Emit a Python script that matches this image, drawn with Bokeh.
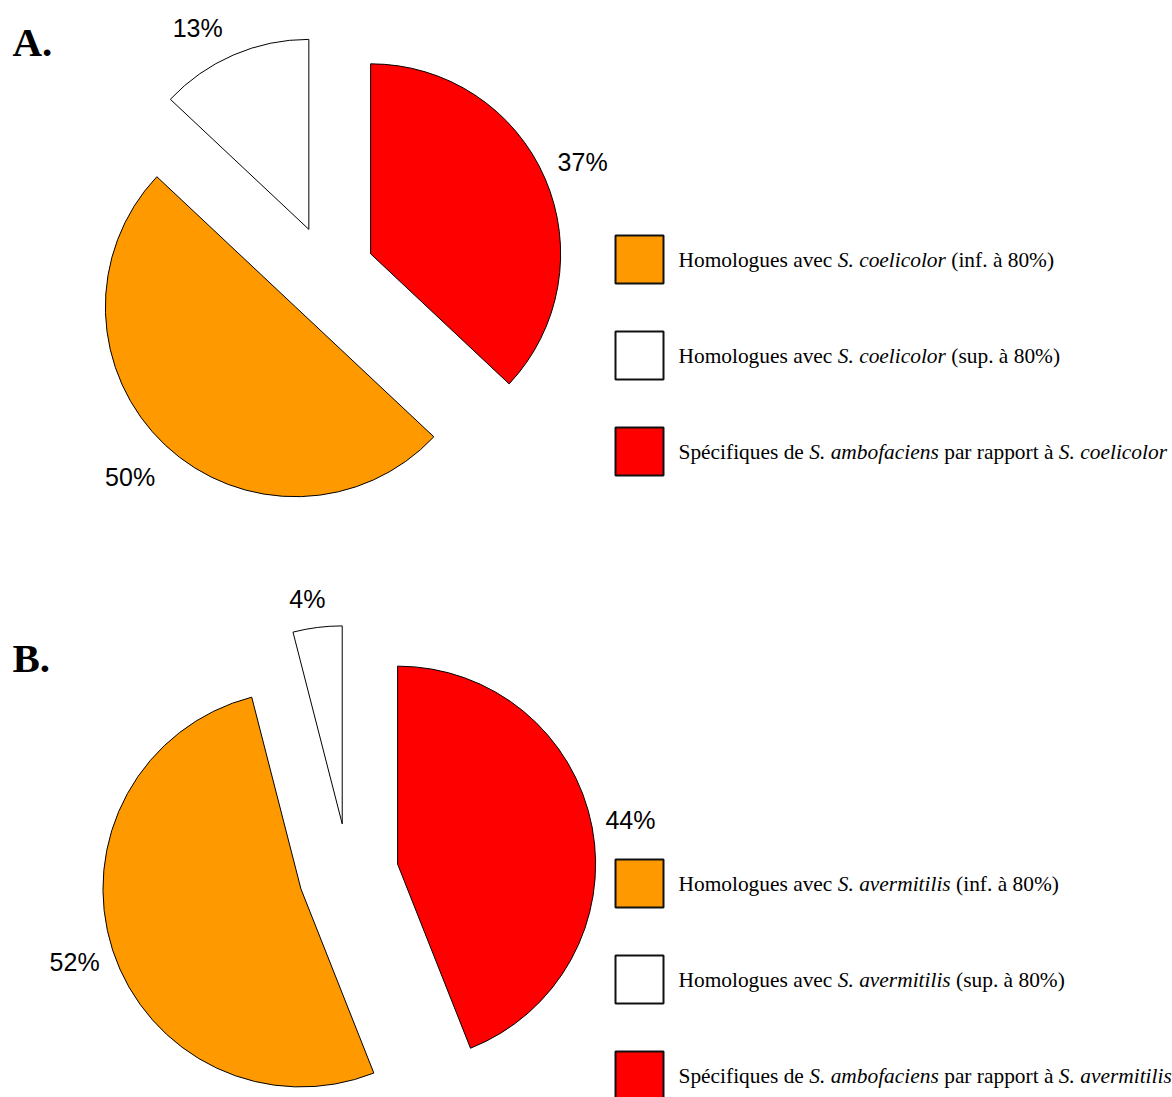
import math
from bokeh.plotting import figure
from bokeh.models import Range1d
from bokeh.core.properties import value
from bokeh.embed import file_html
from bokeh.resources import INLINE

# ---------------- data ----------------
categories = ["inf", "sup", "spec"]               # legend order
colors = ["#FF9900", "#FFFFFF", "#FF0000"]
values_A = [50, 13, 37]
values_B = [52, 4, 44]
pie_order = [2, 0, 1]                              # clockwise from 12 o'clock
reference_A = "S. coelicolor"
reference_B = "S. avermitilis"
query_species = "S. ambofaciens"
panel_labels = ["A.", "B."]

def legend_segments(ref):
    return [
        [("Homologues avec ", False), (ref, True), (" (inf. à 80%)", False)],
        [("Homologues avec ", False), (ref, True), (" (sup. à 80%)", False)],
        [("Spécifiques de ", False), (query_species, True), (" par rapport à ", False), (ref, True)],
    ]

# ---------------- layout (screen pixels) ----------------
H = 1097
W_PX, H_PX = 1172, 1097
panels = [
    dict(vals=values_A, ref=reference_A, label=panel_labels[0], cx=327, cy=272, r=190, ex=47,
         label_pos={0: (1, 237), 1: (-5.5, 230), 2: (0, 231)}, legend_y=[259, 355, 451], title_mid=41),
    dict(vals=values_B, ref=reference_B, label=panel_labels[1], cx=348, cy=873, r=198, ex=50,
         label_pos={0: (0, 238), 1: (-1.6, 228), 2: (0, 237)}, legend_y=[883, 979, 1075], title_mid=657),
]

# Times metrics (per 1000 em)
REG = {' ': 250, '(': 333, ')': 333, '%': 833, '.': 250, 'A': 722, 'H': 722, 'S': 556,
       'a': 444, 'b': 500, 'c': 444, 'd': 500, 'e': 444, 'f': 333, 'g': 500, 'h': 500, 'i': 278,
       'l': 278, 'm': 778, 'n': 500, 'o': 500, 'p': 500, 'q': 500, 'r': 333, 's': 389, 't': 278,
       'u': 500, 'v': 500, 'é': 444, 'à': 444}
ITA = {' ': 250, '.': 250, 'S': 500, 'a': 500, 'b': 500, 'c': 444, 'e': 444, 'f': 278, 'i': 278,
       'l': 278, 'm': 722, 'n': 500, 'o': 500, 'r': 389, 's': 389, 't': 278, 'v': 444}

def text_width(s, italic, size):
    table = ITA if italic else REG
    return sum(table.get(ch, 500) for ch in s) * size / 1000.0

LEG_FONT = 21.4
BOX = 48
BOX_X = 639
TEXT_X = 678

p = figure(width=W_PX, height=H_PX, x_range=Range1d(0, W_PX), y_range=Range1d(H - H_PX, H),
           output_backend="svg", toolbar_location=None, min_border=0,
           x_axis_type=None, y_axis_type=None)
p.grid.visible = False
p.outline_line_color = None
p.background_fill_color = "white"

for pan in panels:
    vals = pan["vals"]
    total = float(sum(vals))
    cum = 0.0
    cx, cy_data = pan["cx"], H - pan["cy"]
    wx, wy, ws, we, wc, lx, ly, lt = [], [], [], [], [], [], [], []
    for idx in pie_order:
        frac = vals[idx] / total
        phi0 = cum * 2 * math.pi
        phi1 = (cum + frac) * 2 * math.pi
        mid = (phi0 + phi1) / 2
        cum += frac
        sx = cx + pan["ex"] * math.sin(mid)
        sy = cy_data + pan["ex"] * math.cos(mid)
        wx.append(sx); wy.append(sy)
        ws.append(math.pi / 2 - phi0); we.append(math.pi / 2 - phi1)
        wc.append(colors[idx])
        shift, dist = pan["label_pos"][idx]
        la = mid + math.radians(shift)
        lx.append(sx + dist * math.sin(la))
        ly.append(sy + dist * math.cos(la))
        lt.append(f"{vals[idx]}%")
    p.wedge(x=wx, y=wy, radius=pan["r"], start_angle=ws, end_angle=we, direction="clock",
            fill_color=wc, line_color="black", line_width=1)
    p.text(x=lx, y=ly, text=lt, text_font=value("Liberation Sans"), text_font_size="25px",
           text_align="center", text_baseline="middle", text_color="black")

    # panel label
    p.text(x=[12], y=[H - pan["title_mid"]], text=[pan["label"]], text_font=value("Liberation Serif"),
           text_font_size="41px", text_font_style="bold", text_align="left", text_baseline="middle",
           text_color="black")

    # legend
    segs = legend_segments(pan["ref"])
    p.rect(x=[BOX_X] * 3, y=[H - yy for yy in pan["legend_y"]], width=BOX, height=BOX,
           fill_color=colors, line_color="#111111", line_width=2)
    for row, yy in enumerate(pan["legend_y"]):
        x = TEXT_X
        for s, it in segs[row]:
            lead = len(s) - len(s.lstrip(" "))
            core = s.strip(" ")
            p.text(x=[x + text_width(" " * lead, it, LEG_FONT)], y=[H - yy], text=[core],
                   text_font=value("Liberation Serif"),
                   text_font_size=f"{LEG_FONT}px", text_font_style="italic" if it else "normal",
                   text_align="left", text_baseline="middle", text_color="black")
            x += text_width(s, it, LEG_FONT)

open("out.html", "w").write(file_html(p, INLINE))
